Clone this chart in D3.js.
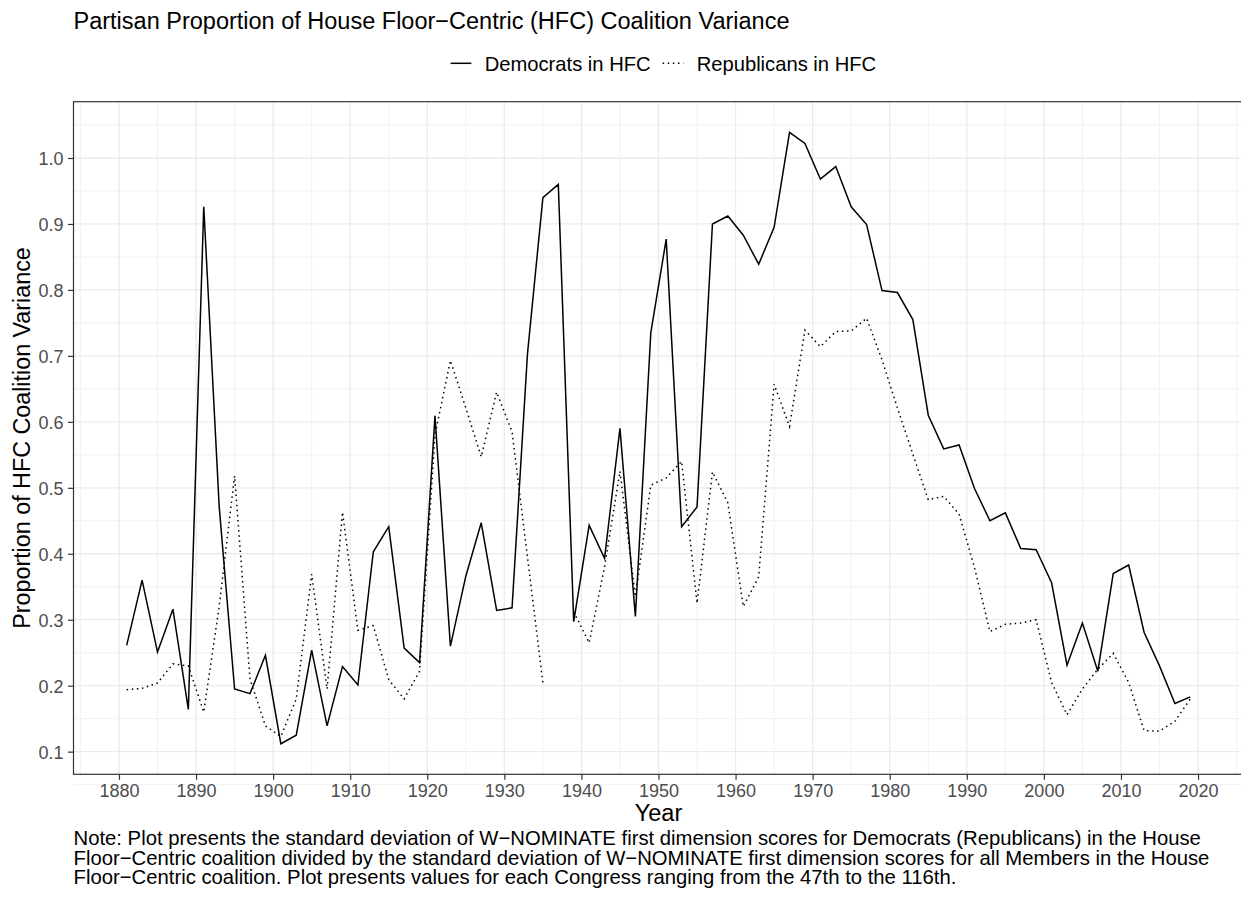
<!DOCTYPE html>
<html>
<head>
<meta charset="utf-8">
<script src="https://cdn.jsdelivr.net/npm/d3@7"></script>
<style>
  html, body { margin: 0; padding: 0; background: #fff; }
  svg { display: block; }
  text { font-family: "Liberation Sans", Helvetica, Arial, sans-serif; }
</style>
</head>
<body>
<svg id="chart" width="1241" height="901"></svg>
<script>
// Congress start years, 47th (1881) through 116th (2019)
const years = [
  1881, 1883, 1885, 1887, 1889, 1891, 1893, 1895, 1897, 1899,
  1901, 1903, 1905, 1907, 1909, 1911, 1913, 1915, 1917, 1919,
  1921, 1923, 1925, 1927, 1929, 1931, 1933, 1935, 1937, 1939,
  1941, 1943, 1945, 1947, 1949, 1951, 1953, 1955, 1957, 1959,
  1961, 1963, 1965, 1967, 1969, 1971, 1973, 1975, 1977, 1979,
  1981, 1983, 1985, 1987, 1989, 1991, 1993, 1995, 1997, 1999,
  2001, 2003, 2005, 2007, 2009, 2011, 2013, 2015, 2017, 2019
];

// Democrats' SD in the HFC coalition / SD of all HFC members
const democrats = [
  0.261, 0.360, 0.251, 0.316, 0.164, 0.926, 0.472, 0.195, 0.188, 0.246,
  0.112, 0.125, 0.254, 0.139, 0.229, 0.201, 0.403, 0.441, 0.257, 0.235,
  0.609, 0.260, 0.366, 0.447, 0.314, 0.318, 0.703, 0.940, 0.960, 0.297,
  0.443, 0.393, 0.590, 0.305, 0.735, 0.877, 0.441, 0.471, 0.900, 0.912,
  0.883, 0.839, 0.895, 1.039, 1.022, 0.968, 0.987, 0.926, 0.899, 0.799,
  0.796, 0.755, 0.610, 0.559, 0.565, 0.499, 0.450, 0.462, 0.408, 0.406,
  0.356, 0.231, 0.295, 0.222, 0.370, 0.383, 0.281, 0.230, 0.173, 0.183
];

// Republicans' SD in the HFC coalition / SD of all HFC members (1937 missing)
const republicans = [
  0.194, 0.196, 0.204, 0.233, 0.230, 0.160, 0.320, 0.518, 0.210, 0.139,
  0.123, 0.180, 0.369, 0.195, 0.463, 0.284, 0.291, 0.209, 0.180, 0.222,
  0.580, 0.693, 0.621, 0.547, 0.645, 0.585, 0.395, 0.204, null,  0.312,
  0.265, 0.380, 0.525, 0.335, 0.504, 0.515, 0.540, 0.325, 0.524, 0.477,
  0.320, 0.365, 0.657, 0.593, 0.739, 0.714, 0.737, 0.738, 0.757, 0.694,
  0.621, 0.551, 0.482, 0.487, 0.460, 0.379, 0.282, 0.293, 0.295, 0.300,
  0.205, 0.156, 0.195, 0.225, 0.249, 0.205, 0.132, 0.131, 0.146, 0.180
];

const xTicks = [1880, 1890, 1900, 1910, 1920, 1930, 1940, 1950, 1960, 1970, 1980, 1990, 2000, 2010, 2020];
const yTicks = [0.1, 0.2, 0.3, 0.4, 0.5, 0.6, 0.7, 0.8, 0.9, 1.0];

const seriesNames = ["Democrats in HFC", "Republicans in HFC"];

const titleText = "Partisan Proportion of House Floor\u2212Centric (HFC) Coalition Variance";
const xTitle = "Year";
const yTitle = "Proportion of HFC Coalition Variance";
const noteLines = [
  "Note: Plot presents the standard deviation of W\u2212NOMINATE first dimension scores for Democrats (Republicans) in the House",
  "Floor\u2212Centric coalition divided by the standard deviation of W\u2212NOMINATE first dimension scores for all Members in the House",
  "Floor\u2212Centric coalition. Plot presents values for each Congress ranging from the 47th to the 116th."
];

// ---- layout ----
const panel = { left: 73.5, right: 1243.5, top: 101.7, bottom: 774.3 };
const gridCol = "#EBEBEB";
const inkCol = "#333333";
const tickTextCol = "#4D4D4D";

const svg = d3.select("#chart");
svg.append("rect").attr("width", 1241).attr("height", 901).attr("fill", "#fff");

// 5% expansion on both axes
function expand(ext) {
  const pad = (ext[1] - ext[0]) * 0.05;
  return [ext[0] - pad, ext[1] + pad];
}
const xDom = expand(d3.extent(years));
const allVals = democrats.concat(republicans).filter(v => v != null);
const yDom = expand(d3.extent(allVals));

const x = d3.scaleLinear().domain(xDom).range([panel.left, panel.right]);
const y = d3.scaleLinear().domain(yDom).range([panel.bottom, panel.top]);

// ---- grid ----
const grid = svg.append("g");
const xMinor = d3.range(1875, 2030, 10);
const yMinor = d3.range(0.05, 1.1, 0.1).map(v => +v.toFixed(2));

grid.selectAll(".ymin").data(yMinor).join("line")
  .attr("x1", panel.left).attr("x2", panel.right)
  .attr("y1", d => y(d)).attr("y2", d => y(d))
  .attr("stroke", gridCol).attr("stroke-width", 0.7);
grid.selectAll(".xmin").data(xMinor).join("line")
  .attr("y1", panel.top).attr("y2", panel.bottom)
  .attr("x1", d => x(d)).attr("x2", d => x(d))
  .attr("stroke", gridCol).attr("stroke-width", 0.7);
grid.selectAll(".ymaj").data(yTicks).join("line")
  .attr("x1", panel.left).attr("x2", panel.right)
  .attr("y1", d => y(d)).attr("y2", d => y(d))
  .attr("stroke", gridCol).attr("stroke-width", 1.3);
grid.selectAll(".xmaj").data(xTicks).join("line")
  .attr("y1", panel.top).attr("y2", panel.bottom)
  .attr("x1", d => x(d)).attr("x2", d => x(d))
  .attr("stroke", gridCol).attr("stroke-width", 1.3);

// ---- series ----
const rows = years.map((yr, i) => ({ yr, d: democrats[i], r: republicans[i] }));

const lineD = d3.line().x(d => x(d.yr)).y(d => y(d.d));
const lineR = d3.line().defined(d => d.r != null).x(d => x(d.yr)).y(d => y(d.r));

svg.append("path").datum(rows).attr("d", lineR)
  .attr("fill", "none").attr("stroke", "#000")
  .attr("stroke-width", 1.5).attr("stroke-dasharray", "1.5,3.6");

svg.append("path").datum(rows).attr("d", lineD)
  .attr("fill", "none").attr("stroke", "#000")
  .attr("stroke-width", 1.5).attr("stroke-linejoin", "miter");

// ---- panel border ----
svg.append("rect")
  .attr("x", panel.left).attr("y", panel.top)
  .attr("width", panel.right - panel.left).attr("height", panel.bottom - panel.top)
  .attr("fill", "none").attr("stroke", inkCol).attr("stroke-width", 1.2);

// ---- axes ----
const xAxis = d3.axisBottom(x).tickValues(xTicks).tickFormat(d3.format("d"))
  .tickSize(5.5).tickPadding(4);
const gx = svg.append("g").attr("transform", `translate(0,${panel.bottom})`).call(xAxis);
gx.select(".domain").remove();
gx.selectAll(".tick line").attr("stroke", inkCol).attr("stroke-width", 1.2);
gx.selectAll(".tick text").attr("fill", tickTextCol)
  .style("font-size", "18px").attr("dy", null).attr("y", 22.5);

const yAxis = d3.axisLeft(y).tickValues(yTicks).tickFormat(d3.format(".1f"))
  .tickSize(5.5).tickPadding(4);
const gy = svg.append("g").attr("transform", `translate(${panel.left},0)`).call(yAxis);
gy.select(".domain").remove();
gy.selectAll(".tick line").attr("stroke", inkCol).attr("stroke-width", 1.2);
gy.selectAll(".tick text").attr("fill", tickTextCol)
  .style("font-size", "18px").attr("x", -10).attr("dy", "0.36em");

// ---- titles ----
svg.append("text").attr("x", 73.5).attr("y", 29)
  .style("font-size", "23.5px").attr("fill", "#000").text(titleText);

svg.append("text").attr("x", (panel.left + panel.right) / 2).attr("y", 821)
  .attr("text-anchor", "middle").style("font-size", "23.5px").attr("fill", "#000").text(xTitle);

svg.append("text")
  .attr("transform", `translate(30,${(panel.top + panel.bottom) / 2}) rotate(-90)`)
  .attr("text-anchor", "middle").style("font-size", "23.3px").attr("fill", "#000").text(yTitle);

// ---- legend ----
const legY = 63.3;
const leg = svg.append("g");
const keyW = 20.7, keyGap = 13.3, itemGap = 12;
const styles = [null, "1.5,3.6"];
let cx = 0;
seriesNames.forEach((name, i) => {
  const g = leg.append("g");
  g.append("line").attr("x1", 0).attr("x2", keyW).attr("y1", legY).attr("y2", legY)
    .attr("stroke", "#000").attr("stroke-width", 1.5)
    .attr("stroke-dasharray", styles[i]);
  const t = g.append("text").attr("x", keyW + keyGap).attr("y", legY + 7.3)
    .style("font-size", "20.2px").attr("fill", "#000").text(name);
  const w = keyW + keyGap + t.node().getComputedTextLength();
  g.attr("transform", `translate(${cx},0)`);
  cx += w + itemGap;
});
const legW = cx - itemGap;
leg.attr("transform", `translate(${663.4 - legW / 2},0)`);

// ---- note ----
svg.append("g").selectAll("text").data(noteLines).join("text")
  .attr("x", 73.5).attr("y", (d, i) => 845 + i * 19.5)
  .style("font-size", "20.3px").attr("fill", "#000").text(d => d);
</script>
</body>
</html>
